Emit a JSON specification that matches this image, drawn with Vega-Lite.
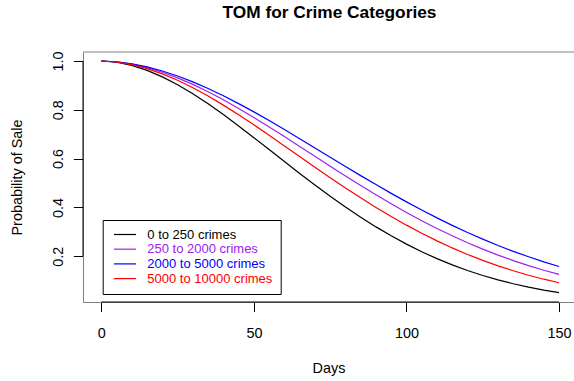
{
  "$schema": "https://vega.github.io/schema/vega-lite/v6.json",
  "width": 491,
  "height": 250,
  "autosize": {"type": "none"},
  "padding": {"left": 83, "top": 52, "right": 0, "bottom": 79},
  "background": "white",
  "title": {"text": "TOM for Crime Categories", "font": "Liberation Sans", "fontSize": 17.3, "fontWeight": "bold", "color": "black", "anchor": "middle", "frame": "group", "baseline": "alphabetic", "offset": 16, "dx": 1},
  "config": {
    "view": {"stroke": null},
    "font": "Liberation Sans",
    "axis": {"grid": false, "domainColor": "#808080", "domainWidth": 1, "tickColor": "black", "tickWidth": 1, "tickSize": 9.6, "labelColor": "black", "labelFontSize": 14.4, "labelFont": "Liberation Sans", "titleFont": "Liberation Sans", "titleFontSize": 14.4, "titleFontWeight": "normal", "titleColor": "black", "labelFlush": false, "labelOverlap": false}
  },
  "data": {"values": [
    {"day": 0, "p": 1, "cat": "0 to 250 crimes"},
    {"day": 5, "p": 0.9950, "cat": "0 to 250 crimes"},
    {"day": 10, "p": 0.9819, "cat": "0 to 250 crimes"},
    {"day": 15, "p": 0.9615, "cat": "0 to 250 crimes"},
    {"day": 20, "p": 0.9349, "cat": "0 to 250 crimes"},
    {"day": 25, "p": 0.9026, "cat": "0 to 250 crimes"},
    {"day": 30, "p": 0.8656, "cat": "0 to 250 crimes"},
    {"day": 35, "p": 0.8246, "cat": "0 to 250 crimes"},
    {"day": 40, "p": 0.7804, "cat": "0 to 250 crimes"},
    {"day": 45, "p": 0.7339, "cat": "0 to 250 crimes"},
    {"day": 50, "p": 0.6858, "cat": "0 to 250 crimes"},
    {"day": 55, "p": 0.6370, "cat": "0 to 250 crimes"},
    {"day": 60, "p": 0.5879, "cat": "0 to 250 crimes"},
    {"day": 65, "p": 0.5392, "cat": "0 to 250 crimes"},
    {"day": 70, "p": 0.4917, "cat": "0 to 250 crimes"},
    {"day": 75, "p": 0.4457, "cat": "0 to 250 crimes"},
    {"day": 80, "p": 0.4016, "cat": "0 to 250 crimes"},
    {"day": 85, "p": 0.3597, "cat": "0 to 250 crimes"},
    {"day": 90, "p": 0.3203, "cat": "0 to 250 crimes"},
    {"day": 95, "p": 0.2836, "cat": "0 to 250 crimes"},
    {"day": 100, "p": 0.2496, "cat": "0 to 250 crimes"},
    {"day": 105, "p": 0.2184, "cat": "0 to 250 crimes"},
    {"day": 110, "p": 0.1901, "cat": "0 to 250 crimes"},
    {"day": 115, "p": 0.1645, "cat": "0 to 250 crimes"},
    {"day": 120, "p": 0.1415, "cat": "0 to 250 crimes"},
    {"day": 125, "p": 0.1211, "cat": "0 to 250 crimes"},
    {"day": 130, "p": 0.1030, "cat": "0 to 250 crimes"},
    {"day": 135, "p": 0.0872, "cat": "0 to 250 crimes"},
    {"day": 140, "p": 0.0734, "cat": "0 to 250 crimes"},
    {"day": 145, "p": 0.0614, "cat": "0 to 250 crimes"},
    {"day": 150, "p": 0.0511, "cat": "0 to 250 crimes"},
    {"day": 0, "p": 1, "cat": "250 to 2000 crimes"},
    {"day": 5, "p": 0.9965, "cat": "250 to 2000 crimes"},
    {"day": 10, "p": 0.9873, "cat": "250 to 2000 crimes"},
    {"day": 15, "p": 0.9730, "cat": "250 to 2000 crimes"},
    {"day": 20, "p": 0.9541, "cat": "250 to 2000 crimes"},
    {"day": 25, "p": 0.9310, "cat": "250 to 2000 crimes"},
    {"day": 30, "p": 0.9042, "cat": "250 to 2000 crimes"},
    {"day": 35, "p": 0.8741, "cat": "250 to 2000 crimes"},
    {"day": 40, "p": 0.8411, "cat": "250 to 2000 crimes"},
    {"day": 45, "p": 0.8058, "cat": "250 to 2000 crimes"},
    {"day": 50, "p": 0.7686, "cat": "250 to 2000 crimes"},
    {"day": 55, "p": 0.7299, "cat": "250 to 2000 crimes"},
    {"day": 60, "p": 0.6902, "cat": "250 to 2000 crimes"},
    {"day": 65, "p": 0.6498, "cat": "250 to 2000 crimes"},
    {"day": 70, "p": 0.6093, "cat": "250 to 2000 crimes"},
    {"day": 75, "p": 0.5689, "cat": "250 to 2000 crimes"},
    {"day": 80, "p": 0.5289, "cat": "250 to 2000 crimes"},
    {"day": 85, "p": 0.4898, "cat": "250 to 2000 crimes"},
    {"day": 90, "p": 0.4517, "cat": "250 to 2000 crimes"},
    {"day": 95, "p": 0.4149, "cat": "250 to 2000 crimes"},
    {"day": 100, "p": 0.3795, "cat": "250 to 2000 crimes"},
    {"day": 105, "p": 0.3458, "cat": "250 to 2000 crimes"},
    {"day": 110, "p": 0.3138, "cat": "250 to 2000 crimes"},
    {"day": 115, "p": 0.2837, "cat": "250 to 2000 crimes"},
    {"day": 120, "p": 0.2554, "cat": "250 to 2000 crimes"},
    {"day": 125, "p": 0.2291, "cat": "250 to 2000 crimes"},
    {"day": 130, "p": 0.2047, "cat": "250 to 2000 crimes"},
    {"day": 135, "p": 0.1821, "cat": "250 to 2000 crimes"},
    {"day": 140, "p": 0.1614, "cat": "250 to 2000 crimes"},
    {"day": 145, "p": 0.1425, "cat": "250 to 2000 crimes"},
    {"day": 150, "p": 0.1254, "cat": "250 to 2000 crimes"},
    {"day": 0, "p": 1, "cat": "2000 to 5000 crimes"},
    {"day": 5, "p": 0.9969, "cat": "2000 to 5000 crimes"},
    {"day": 10, "p": 0.9887, "cat": "2000 to 5000 crimes"},
    {"day": 15, "p": 0.9760, "cat": "2000 to 5000 crimes"},
    {"day": 20, "p": 0.9591, "cat": "2000 to 5000 crimes"},
    {"day": 25, "p": 0.9384, "cat": "2000 to 5000 crimes"},
    {"day": 30, "p": 0.9144, "cat": "2000 to 5000 crimes"},
    {"day": 35, "p": 0.8873, "cat": "2000 to 5000 crimes"},
    {"day": 40, "p": 0.8574, "cat": "2000 to 5000 crimes"},
    {"day": 45, "p": 0.8254, "cat": "2000 to 5000 crimes"},
    {"day": 50, "p": 0.7915, "cat": "2000 to 5000 crimes"},
    {"day": 55, "p": 0.7560, "cat": "2000 to 5000 crimes"},
    {"day": 60, "p": 0.7193, "cat": "2000 to 5000 crimes"},
    {"day": 65, "p": 0.6818, "cat": "2000 to 5000 crimes"},
    {"day": 70, "p": 0.6439, "cat": "2000 to 5000 crimes"},
    {"day": 75, "p": 0.6058, "cat": "2000 to 5000 crimes"},
    {"day": 80, "p": 0.5679, "cat": "2000 to 5000 crimes"},
    {"day": 85, "p": 0.5303, "cat": "2000 to 5000 crimes"},
    {"day": 90, "p": 0.4936, "cat": "2000 to 5000 crimes"},
    {"day": 95, "p": 0.4576, "cat": "2000 to 5000 crimes"},
    {"day": 100, "p": 0.4228, "cat": "2000 to 5000 crimes"},
    {"day": 105, "p": 0.3892, "cat": "2000 to 5000 crimes"},
    {"day": 110, "p": 0.3571, "cat": "2000 to 5000 crimes"},
    {"day": 115, "p": 0.3265, "cat": "2000 to 5000 crimes"},
    {"day": 120, "p": 0.2974, "cat": "2000 to 5000 crimes"},
    {"day": 125, "p": 0.2700, "cat": "2000 to 5000 crimes"},
    {"day": 130, "p": 0.2442, "cat": "2000 to 5000 crimes"},
    {"day": 135, "p": 0.2201, "cat": "2000 to 5000 crimes"},
    {"day": 140, "p": 0.1979, "cat": "2000 to 5000 crimes"},
    {"day": 145, "p": 0.1771, "cat": "2000 to 5000 crimes"},
    {"day": 150, "p": 0.1581, "cat": "2000 to 5000 crimes"},
    {"day": 0, "p": 1, "cat": "5000 to 10000 crimes"},
    {"day": 5, "p": 0.9960, "cat": "5000 to 10000 crimes"},
    {"day": 10, "p": 0.9854, "cat": "5000 to 10000 crimes"},
    {"day": 15, "p": 0.9689, "cat": "5000 to 10000 crimes"},
    {"day": 20, "p": 0.9473, "cat": "5000 to 10000 crimes"},
    {"day": 25, "p": 0.9209, "cat": "5000 to 10000 crimes"},
    {"day": 30, "p": 0.8904, "cat": "5000 to 10000 crimes"},
    {"day": 35, "p": 0.8563, "cat": "5000 to 10000 crimes"},
    {"day": 40, "p": 0.8192, "cat": "5000 to 10000 crimes"},
    {"day": 45, "p": 0.7797, "cat": "5000 to 10000 crimes"},
    {"day": 50, "p": 0.7384, "cat": "5000 to 10000 crimes"},
    {"day": 55, "p": 0.6957, "cat": "5000 to 10000 crimes"},
    {"day": 60, "p": 0.6522, "cat": "5000 to 10000 crimes"},
    {"day": 65, "p": 0.6085, "cat": "5000 to 10000 crimes"},
    {"day": 70, "p": 0.5649, "cat": "5000 to 10000 crimes"},
    {"day": 75, "p": 0.5220, "cat": "5000 to 10000 crimes"},
    {"day": 80, "p": 0.4800, "cat": "5000 to 10000 crimes"},
    {"day": 85, "p": 0.4392, "cat": "5000 to 10000 crimes"},
    {"day": 90, "p": 0.4001, "cat": "5000 to 10000 crimes"},
    {"day": 95, "p": 0.3628, "cat": "5000 to 10000 crimes"},
    {"day": 100, "p": 0.3274, "cat": "5000 to 10000 crimes"},
    {"day": 105, "p": 0.2941, "cat": "5000 to 10000 crimes"},
    {"day": 110, "p": 0.2630, "cat": "5000 to 10000 crimes"},
    {"day": 115, "p": 0.2341, "cat": "5000 to 10000 crimes"},
    {"day": 120, "p": 0.2074, "cat": "5000 to 10000 crimes"},
    {"day": 125, "p": 0.1829, "cat": "5000 to 10000 crimes"},
    {"day": 130, "p": 0.1606, "cat": "5000 to 10000 crimes"},
    {"day": 135, "p": 0.1404, "cat": "5000 to 10000 crimes"},
    {"day": 140, "p": 0.1222, "cat": "5000 to 10000 crimes"},
    {"day": 145, "p": 0.1059, "cat": "5000 to 10000 crimes"},
    {"day": 150, "p": 0.0914, "cat": "5000 to 10000 crimes"}
  ]},
  "layer": [
    {
      "data": {"values": [{}]},
      "mark": {"type": "rule", "color": "#808080", "strokeWidth": 1},
      "encoding": {"y": {"datum": 1.0369, "type": "quantitative"}}
    },
    {
      "mark": {"type": "line", "strokeWidth": 1.2, "clip": false},
      "encoding": {
        "x": {"field": "day", "type": "quantitative", "scale": {"domain": [-6, 154.9], "nice": false, "zero": false},
              "axis": {"values": [0, 50, 100, 150], "title": "Days", "labelPadding": 15, "titlePadding": 21}},
        "y": {"field": "p", "type": "quantitative", "scale": {"domain": [0.0125, 1.0369], "nice": false, "zero": false},
              "axis": {"values": [0.2, 0.4, 0.6, 0.8, 1.0], "format": ".1f", "title": "Probability of Sale", "labelAngle": 270, "labelAlign": "center", "labelBaseline": "bottom", "labelPadding": 8, "titlePadding": 26}},
        "color": {"field": "cat", "type": "nominal",
                  "scale": {"domain": ["0 to 250 crimes", "250 to 2000 crimes", "2000 to 5000 crimes", "5000 to 10000 crimes"], "range": ["#000000", "#A020F0", "#0000FF", "#FF0000"]},
                  "legend": {"title": null, "orient": "none", "legendX": 19.7, "legendY": 168, "direction": "vertical",
                             "symbolType": "M-1.866,0H1.866", "symbolSize": 139, "symbolStrokeWidth": 1.2, "symbolOffset": 7.8,
                             "labelFont": "Liberation Sans", "labelFontSize": 13, "labelOffset": 15.8, "labelLimit": 400,
                             "rowPadding": 0.7, "padding": 8, "strokeColor": "black", "fillColor": "white", "cornerRadius": 0,
                             "encode": {"labels": {"update": {"fill": {"signal": "scale('color', datum.value)"}}}}}}
      }
    },
    {
      "data": {"values": [{}]},
      "mark": {"type": "rule", "color": "black", "strokeWidth": 1},
      "encoding": {"x": {"datum": 0, "type": "quantitative"}, "x2": {"datum": 150}, "y": {"datum": 0.0125, "type": "quantitative"}}
    },
    {
      "data": {"values": [{}]},
      "mark": {"type": "rule", "color": "black", "strokeWidth": 1},
      "encoding": {"x": {"datum": -6, "type": "quantitative"}, "y": {"datum": 0.2, "type": "quantitative"}, "y2": {"datum": 1.0}}
    }
  ]
}
